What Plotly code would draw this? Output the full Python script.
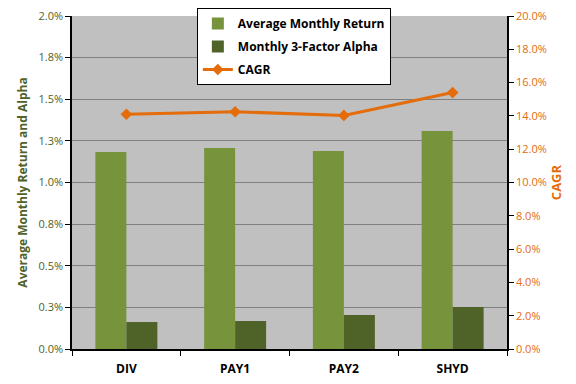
import plotly.graph_objects as go

categories = ["DIV", "PAY1", "PAY2", "SHYD"]
avg_monthly_return = [1.183, 1.207, 1.189, 1.309]
alpha_3factor = [0.162, 0.168, 0.204, 0.252]
cagr = [14.1, 14.25, 14.03, 15.4]

left_tickvals = [0, 0.25, 0.5, 0.75, 1.0, 1.25, 1.5, 1.75, 2.0]
left_ticktext = ["0.0%", "0.3%", "0.5%", "0.8%", "1.0%", "1.3%", "1.5%", "1.8%", "2.0%"]
right_tickvals = [0, 2, 4, 6, 8, 10, 12, 14, 16, 18, 20]
right_ticktext = ["%.1f%%" % v for v in right_tickvals]

OLIVE_L = "#77933C"
OLIVE_D = "#4F6228"
ORANGE = "#E46C0A"
FONT = "Open Sans"

fig = go.Figure()
fig.add_trace(go.Bar(x=categories, y=avg_monthly_return, name="Average Monthly Return",
                     legendgroup="a",
                     marker=dict(color=OLIVE_L, line=dict(width=0))))
fig.add_trace(go.Bar(x=categories, y=alpha_3factor, name="Monthly 3-Factor Alpha",
                     legendgroup="b",
                     marker=dict(color=OLIVE_D, line=dict(width=0))))
fig.add_trace(go.Scatter(x=categories, y=cagr, name="CAGR", yaxis="y2", mode="lines+markers",
                         legendgroup="c",
                         line=dict(color=ORANGE, width=3),
                         marker=dict(symbol="diamond", size=9, color=ORANGE)))

fig.update_layout(
    width=568, height=376,
    margin=dict(l=64, r=69, t=8, b=35, autoexpand=False),
    paper_bgcolor="white", plot_bgcolor="#C0C0C0",
    barmode="group", bargap=0.43, bargroupgap=0,
    font=dict(family=FONT, size=12, color="black"),
    showlegend=True,
    legend=dict(x=0.287, y=1.024, xanchor="left", yanchor="top",
                bgcolor="white", bordercolor="black", borderwidth=1,
                font=dict(family=FONT, size=12, color="black", weight="bold"),
                tracegroupgap=4, itemwidth=30),
    xaxis=dict(showline=True, linecolor="black", linewidth=1.5,
               ticks="outside", tickson="boundaries", ticklen=5, tickcolor="black",
               ticklabelstandoff=8,
               tickfont=dict(family=FONT, size=12, color="black", weight="bold"),
               showgrid=False),
    yaxis=dict(range=[0, 2.0], tickvals=left_tickvals, ticktext=left_ticktext,
               showline=True, linecolor="black", linewidth=1.5,
               ticks="outside", ticklen=5, tickcolor="black",
               ticklabeloverflow="allow",
               showgrid=True, gridcolor="#808080", gridwidth=1, zeroline=False,
               tickfont=dict(family=FONT, size=11, color=OLIVE_D),
               title=dict(text="Average Monthly Return and Alpha",
                          font=dict(family=FONT, size=12, color=OLIVE_D, weight="bold"),
                          standoff=8)),
    yaxis2=dict(range=[0, 20], tickvals=right_tickvals, ticktext=right_ticktext,
                overlaying="y", side="right",
                showline=True, linecolor="black", linewidth=1.5,
                ticks="outside", ticklen=5, tickcolor="black",
                ticklabeloverflow="allow",
                showgrid=False, zeroline=False,
                tickfont=dict(family=FONT, size=11, color=ORANGE),
                title=dict(text="CAGR",
                           font=dict(family=FONT, size=13, color=ORANGE, weight="bold"),
                           standoff=6)),
)

fig.write_html("out.html")
